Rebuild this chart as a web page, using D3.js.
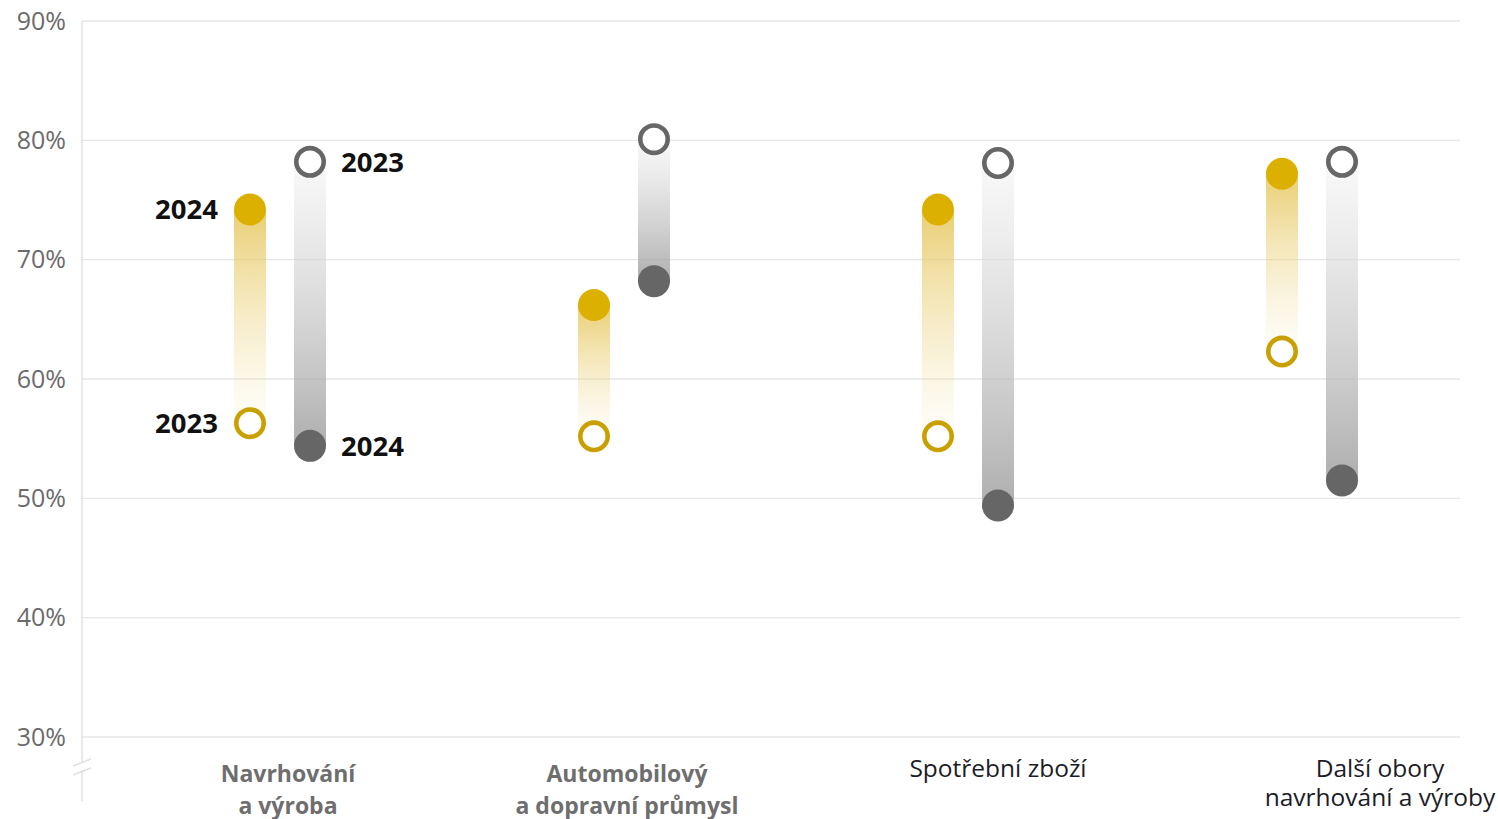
<!DOCTYPE html>
<html>
<head>
<meta charset="utf-8">
<script src="https://cdn.jsdelivr.net/npm/d3@7"></script>
<style>
  html, body { margin: 0; padding: 0; background: #fff; }
  svg { display: block; }
</style>
</head>
<body>
<svg id="chart" width="1498" height="819"></svg>
<script>
// Categories (each label split into lines)
const categories = ["Navrhování a výroba", "Automobilový a dopravní průmysl", "Spotřební zboží", "Další obory navrhování a výroby"];
const categoryLines = [["Navrhování", "a výroba"], ["Automobilový", "a dopravní průmysl"], ["Spotřební zboží"], ["Další obory", "navrhování a výroby"]];

// Gold series (%), 2023 and 2024
const goldValues2023 = [56.3, 55.2, 55.2, 62.3];
const goldValues2024 = [74.2, 66.2, 74.2, 77.2];
// Grey series (%), 2023 and 2024
const greyValues2023 = [78.2, 80.1, 78.1, 78.2];
const greyValues2024 = [54.4, 68.2, 49.4, 51.5];

// Y-axis ticks
const yTicks = [30, 40, 50, 60, 70, 80, 90];
const yearLabels = ["2023", "2024"];

// Category label style (first two bold grey, last two regular dark) and horizontal nudge
const labelBold = [true, true, false, false];
const labelShift = [38, 33, 60, 98];

const svg = d3.select("#chart");
const plotLeft = 82, plotRight = 1460;

const y = d3.scaleLinear().domain([30, 90]).range([737, 21]);
const x = d3.scaleBand().domain(categories).range([78, 1454]);
const goldX = c => x(c) + x.bandwidth() / 2;
const greyX = c => x(c) + x.bandwidth() / 2 + 60;

const defs = svg.append("defs");
function grad(id, top, bottom) {
  const g = defs.append("linearGradient").attr("id", id)
    .attr("x1", 0).attr("y1", 0).attr("x2", 0).attr("y2", 1);
  g.append("stop").attr("offset", "0%").attr("stop-color", top[0]).attr("stop-opacity", top[1]);
  g.append("stop").attr("offset", "100%").attr("stop-color", bottom[0]).attr("stop-opacity", bottom[1]);
}
// gold: strong at 2024 end (top), fading to 2023 end (bottom)
grad("goldUp", ["#e4c250", 0.8], ["#f3e2a8", 0.06]);
grad("goldDown", ["#f3e2a8", 0.06], ["#e4c250", 0.8]);
// grey: faint at 2023 end, darker at 2024 end
grad("greyDown", ["#f2f2f2", 0.5], ["#9a9a9a", 0.8]);
grad("greyUp", ["#9a9a9a", 0.8], ["#f2f2f2", 0.5]);

// Gridlines
svg.append("g").selectAll("line").data(yTicks).join("line")
  .attr("x1", plotLeft).attr("x2", plotRight)
  .attr("y1", d => y(d)).attr("y2", d => y(d))
  .attr("stroke", "#e6e6e6").attr("stroke-width", 1.3);

// Y axis via d3.axisLeft, styled
const yAxis = svg.append("g").attr("transform", `translate(${plotLeft},0)`)
  .call(d3.axisLeft(y).tickValues(yTicks).tickSize(0).tickPadding(16).tickFormat(d => d + "%"));
yAxis.select(".domain").remove();
yAxis.selectAll("text")
  .attr("font-family", "'Open Sans', 'Noto Sans', sans-serif")
  .attr("font-size", 25).attr("fill", "#6b6b6b");

// Vertical axis line with a break marker
const axisG = svg.append("g").attr("stroke", "#e0e0e0").attr("stroke-width", 1.5).attr("fill", "none");
axisG.append("line").attr("x1", plotLeft).attr("x2", plotLeft).attr("y1", y(90)).attr("y2", 762);
axisG.append("line").attr("x1", plotLeft).attr("x2", plotLeft).attr("y1", 770).attr("y2", 801);
axisG.append("line").attr("x1", 73).attr("x2", 91).attr("y1", 766).attr("y2", 759);
axisG.append("line").attr("x1", 73).attr("x2", 91).attr("y1", 775).attr("y2", 768);

const barW = 32, r = 16;
const rows = categories.map((c, i) => ({
  c, i,
  g23: goldValues2023[i], g24: goldValues2024[i],
  k23: greyValues2023[i], k24: greyValues2024[i]
}));

// Gradient bars
const bars = svg.append("g");
bars.selectAll("rect.gold").data(rows).join("rect").attr("class", "gold")
  .attr("x", d => goldX(d.c) - barW / 2)
  .attr("width", barW)
  .attr("y", d => y(Math.max(d.g23, d.g24)))
  .attr("height", d => Math.abs(y(d.g23) - y(d.g24)))
  .attr("fill", d => d.g24 >= d.g23 ? "url(#goldUp)" : "url(#goldDown)");
bars.selectAll("rect.grey").data(rows).join("rect").attr("class", "grey")
  .attr("x", d => greyX(d.c) - barW / 2)
  .attr("width", barW)
  .attr("y", d => y(Math.max(d.k23, d.k24)))
  .attr("height", d => Math.abs(y(d.k23) - y(d.k24)))
  .attr("fill", d => d.k24 <= d.k23 ? "url(#greyDown)" : "url(#greyUp)");

// Dots: hollow = 2023, filled = 2024
const dots = svg.append("g");
dots.selectAll("circle.g23").data(rows).join("circle")
  .attr("cx", d => goldX(d.c)).attr("cy", d => y(d.g23)).attr("r", r - 2.3)
  .attr("fill", "#fff").attr("stroke", "#c9a000").attr("stroke-width", 4.6);
dots.selectAll("circle.g24").data(rows).join("circle")
  .attr("cx", d => goldX(d.c)).attr("cy", d => y(d.g24)).attr("r", r)
  .attr("fill", "#dcb000");
dots.selectAll("circle.k23").data(rows).join("circle")
  .attr("cx", d => greyX(d.c)).attr("cy", d => y(d.k23)).attr("r", r - 2.3)
  .attr("fill", "#fff").attr("stroke", "#666666").attr("stroke-width", 4.6);
dots.selectAll("circle.k24").data(rows).join("circle")
  .attr("cx", d => greyX(d.c)).attr("cy", d => y(d.k24)).attr("r", r)
  .attr("fill", "#666666");

// Year labels on the first category
const first = rows[0];
const yearFont = "'Noto Sans', 'Open Sans', sans-serif";
const yl = svg.append("g").attr("font-family", yearFont).attr("font-size", 27.5)
  .attr("font-weight", 700).attr("fill", "#111");
yl.append("text").attr("x", goldX(first.c) - r - 16).attr("y", y(first.g24))
  .attr("dy", "0.36em").attr("text-anchor", "end").text(yearLabels[1]);
yl.append("text").attr("x", goldX(first.c) - r - 16).attr("y", y(first.g23))
  .attr("dy", "0.36em").attr("text-anchor", "end").text(yearLabels[0]);
yl.append("text").attr("x", greyX(first.c) + r + 15).attr("y", y(first.k23))
  .attr("dy", "0.36em").attr("text-anchor", "start").text(yearLabels[0]);
yl.append("text").attr("x", greyX(first.c) + r + 15).attr("y", y(first.k24))
  .attr("dy", "0.36em").attr("text-anchor", "start").text(yearLabels[1]);

// Category labels
const cl = svg.append("g").attr("font-family", "'Open Sans', 'Noto Sans', sans-serif");
rows.forEach(d => {
  const bold = labelBold[d.i];
  const t = cl.append("text")
    .attr("x", goldX(d.c) + labelShift[d.i])
    .attr("y", bold ? 782 : 777)
    .attr("text-anchor", "middle")
    .attr("font-size", bold ? 23 : 24.5)
    .attr("font-weight", bold ? 700 : 400)
    .attr("fill", bold ? "#6e6e6e" : "#1c1c28");
  categoryLines[d.i].forEach((line, j) => {
    t.append("tspan").attr("x", goldX(d.c) + labelShift[d.i]).attr("dy", j === 0 ? 0 : (bold ? 32 : 29)).text(line);
  });
});
</script>
</body>
</html>
